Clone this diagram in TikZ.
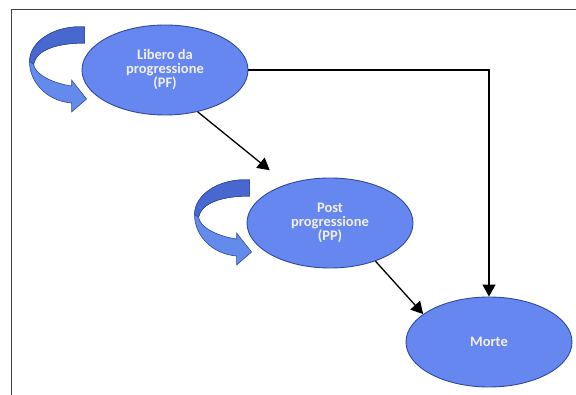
\documentclass[tikz,border=0pt]{standalone}
\usepackage{fontspec}
\setmainfont{Carlito}
\usetikzlibrary{arrows.meta,shapes.geometric}
\definecolor{statofill}{RGB}{103,135,240}
\definecolor{statobordo}{RGB}{46,74,158}
\definecolor{ciclochiaro}{RGB}{100,138,236}
\definecolor{cicloscuro}{RGB}{72,104,208}

\begin{document}
\begin{tikzpicture}[
    x=1pt, y=-1pt,
    stato/.style={ellipse, draw=statobordo, fill=statofill, line width=0.9pt,
        minimum width=166pt, minimum height=90pt, inner sep=0pt, align=center,
        text=white!94!black, font=\fontsize{14.5}{14}\selectfont\bfseries},
    freccia/.style={-{Triangle[length=12pt,width=13pt]}, line width=1.3pt, black},
    cornice/.style={draw=black!75, line width=1pt},
    ciclo/.pic={
        % nastro curvo con punta verso destra
        \filldraw[fill=ciclochiaro, draw=statobordo, line width=0.6pt]
            (3,-43) .. controls (-25,-45) and (-52,-30) .. (-52,-8)
            .. controls (-52,12) and (-35,31) .. (-10,33)
            -- (-10,42) -- (5,29) -- (-10,10) -- (-10,16)
            .. controls (-30,13) and (-47,4) .. (-48,-6)
            .. controls (-45,-20) and (-25,-27) .. (3,-27) -- cycle;
        % parte posteriore piu scura
        \filldraw[fill=cicloscuro, draw=statobordo, line width=0.6pt]
            (3,-43) .. controls (-25,-45) and (-52,-30) .. (-52,-8)
            -- (-48,-6) .. controls (-45,-20) and (-25,-27) .. (3,-27) -- cycle;
    }
]
    \useasboundingbox (0,0) rectangle (576,395);
    \draw[cornice] (576,10) -- (11,10) -- (11,395);

    % Stati del modello
    \node[stato] (pf) at (165,70) {Libero da\\progressione\\(PF)};
    \node[stato] (pp) at (330,223) {Post\\progressione\\(PP)};
    \node[stato] (mo) at (489,342) {Morte};

    % Permanenza nello stesso stato
    \pic at (pf.west) {ciclo};
    \pic at (pp.west) {ciclo};

    % Transizioni
    \draw[freccia, shorten >=22pt] (pf.-52) -- (pp.138);
    \draw[freccia] (pp.-40) -- (mo.157);
    \draw[freccia] (pf.east) -| (mo.north);
\end{tikzpicture}
\end{document}
